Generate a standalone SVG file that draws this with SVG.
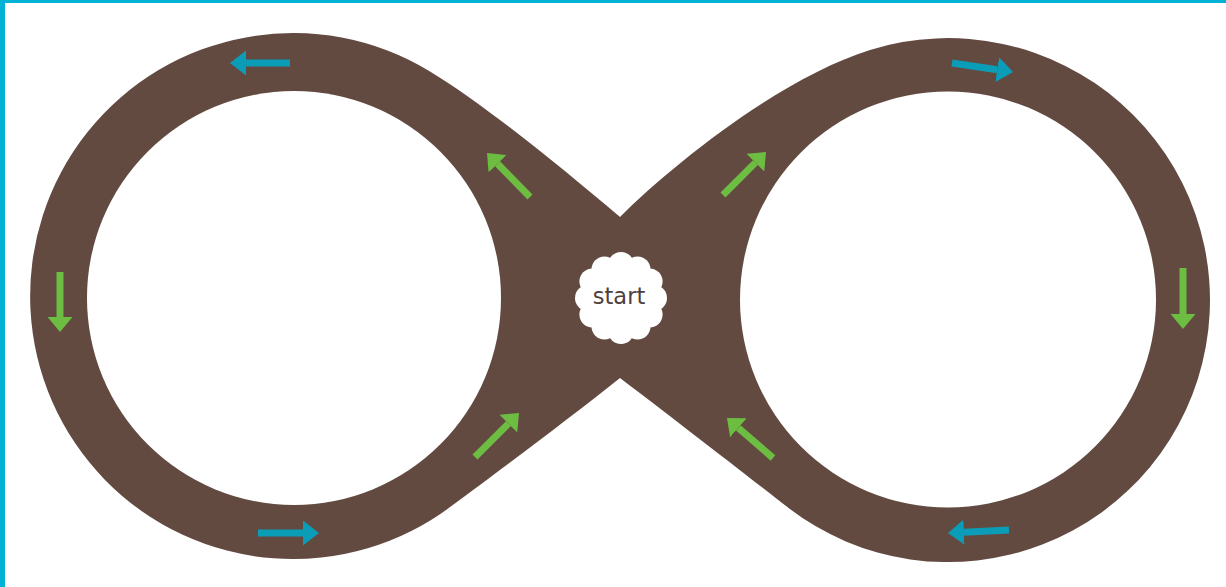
<svg xmlns="http://www.w3.org/2000/svg" width="1226" height="587" viewBox="0 0 1226 587">
  <style>
    .track { fill: #634a41; }
    .hole { fill: #ffffff; }
    .blue { stroke: #0b9cb8; stroke-width: 7; fill: none; }
    .green { stroke: #6cbd41; stroke-width: 7; fill: none; }
    .cloud { fill: #ffffff; }
    .label { font-family: "DejaVu Sans", "Liberation Sans", sans-serif; font-size: 22.5px; fill: #4f403b; }
    .border { fill: #00b3d6; }
  </style>
  <defs>
    <marker id="headBlue" viewBox="0 0 16 25" refX="0" refY="12.5" markerWidth="16" markerHeight="25" markerUnits="userSpaceOnUse" orient="auto">
      <path d="M0,0 L16,12.5 L0,25 Z" fill="#0b9cb8"/>
    </marker>
    <marker id="headGreen" viewBox="0 0 15 25" refX="0" refY="12.5" markerWidth="15" markerHeight="25" markerUnits="userSpaceOnUse" orient="auto">
      <path d="M0,0 L15,12.5 L0,25 Z" fill="#6cbd41"/>
    </marker>
  </defs>
  <rect width="1226" height="587" fill="#ffffff"/>
  <rect class="border" x="0" y="0" width="5" height="587"/>
  <rect class="border" x="0" y="0" width="1226" height="3"/>

  <g id="track">
    <path class="track" d="M620,217 C670,167 780,78 870,50 A262,262 0 1 1 788,507.6 C740,470 670,416 620,378 C570,418 500,470 452.1,505.6 A263,263 0 1 1 430,71.5 C485,105 560,166 620,217 Z"/>
    <circle class="hole" cx="294" cy="298" r="207"/>
    <circle class="hole" cx="948" cy="299.5" r="208"/>
  </g>

  <g id="connectors">
    <line class="blue" x1="290" y1="63" x2="246" y2="63" marker-end="url(#headBlue)"/>
    <line class="blue" x1="952" y1="63" x2="997.2" y2="69.7" marker-end="url(#headBlue)"/>
    <line class="blue" x1="258" y1="533" x2="303" y2="533" marker-end="url(#headBlue)"/>
    <line class="blue" x1="1009" y1="530" x2="964" y2="532.2" marker-end="url(#headBlue)"/>
    <line class="green" x1="60" y1="272" x2="60" y2="317" marker-end="url(#headGreen)"/>
    <line class="green" x1="1183" y1="268" x2="1183" y2="314" marker-end="url(#headGreen)"/>
    <line class="green" x1="530" y1="197" x2="497.5" y2="163.7" marker-end="url(#headGreen)"/>
    <line class="green" x1="723" y1="195" x2="755.4" y2="162.6" marker-end="url(#headGreen)"/>
    <line class="green" x1="475" y1="457" x2="508.4" y2="423.6" marker-end="url(#headGreen)"/>
    <line class="green" x1="773" y1="458" x2="738.3" y2="427.8" marker-end="url(#headGreen)"/>
  </g>

  <g id="start">
    <g class="cloud">
      <circle cx="621" cy="298" r="37"/>
      <circle cx="654" cy="298" r="13"/>
      <circle cx="649.6" cy="314.5" r="13"/>
      <circle cx="637.5" cy="326.6" r="13"/>
      <circle cx="621" cy="331" r="13"/>
      <circle cx="604.5" cy="326.6" r="13"/>
      <circle cx="592.4" cy="314.5" r="13"/>
      <circle cx="588" cy="298" r="13"/>
      <circle cx="592.4" cy="281.5" r="13"/>
      <circle cx="604.5" cy="269.4" r="13"/>
      <circle cx="621" cy="265" r="13"/>
      <circle cx="637.5" cy="269.4" r="13"/>
      <circle cx="649.6" cy="281.5" r="13"/>
    </g>
    <text class="label" x="619" y="304" text-anchor="middle">start</text>
  </g>
</svg>
